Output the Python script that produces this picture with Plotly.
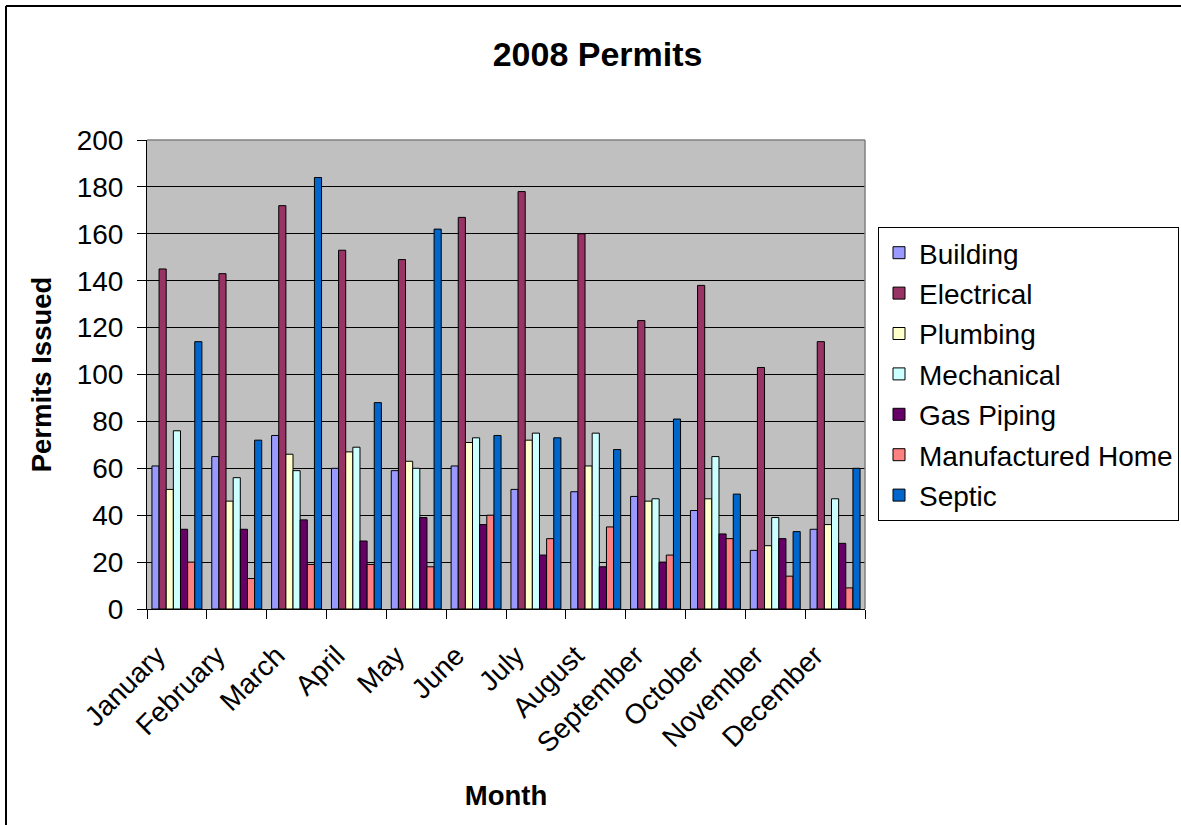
import plotly.graph_objects as go

# Permits issued per month in 2008, by permit type
months = ["January", "February", "March", "April", "May", "June",
          "July", "August", "September", "October", "November", "December"]

building = [61, 65, 74, 60, 59, 61, 51, 50, 48, 42, 25, 34]
electrical = [145, 143, 172, 153, 149, 167, 178, 160, 123, 138, 103, 114]
plumbing = [51, 46, 66, 67, 63, 71, 72, 61, 46, 47, 27, 36]
mechanical = [76, 56, 59, 69, 60, 73, 75, 75, 47, 65, 39, 47]
gas_piping = [34, 34, 38, 29, 39, 36, 23, 18, 20, 32, 30, 28]
manufactured_home = [20, 13, 19, 19, 18, 40, 30, 35, 23, 30, 14, 9]
septic = [114, 72, 184, 88, 162, 74, 73, 68, 81, 49, 33, 60]

series = [
    ("Building", building, "#9999FF"),
    ("Electrical", electrical, "#993366"),
    ("Plumbing", plumbing, "#FFFFCC"),
    ("Mechanical", mechanical, "#CCFFFF"),
    ("Gas Piping", gas_piping, "#660066"),
    ("Manufactured Home", manufactured_home, "#FF8080"),
    ("Septic", septic, "#0066CC"),
]

FONT = "Arial, Liberation Sans, sans-serif"

fig = go.Figure()
for name, values, color in series:
    fig.add_trace(go.Bar(
        name=name, x=months, y=values,
        marker=dict(color=color, line=dict(color="black", width=1)),
        legendgroup=name,
    ))

# plot-area geometry in pixels
W, H = 1181, 825
L, R, T, B = 147, 316, 140, 216
pw, ph = W - L - R, H - T - B

def px_x(p):
    return (p - L) / pw

def px_y(p):
    return (H - B - p) / ph

fig.update_layout(
    width=W, height=H,
    margin=dict(l=L, r=R, t=T, b=B, autoexpand=False),
    paper_bgcolor="white",
    plot_bgcolor="#C0C0C0",
    font=dict(family=FONT, size=28, color="black"),
    barmode="group",
    bargap=0.165,
    bargroupgap=0,
    title=dict(text="<b>2008 Permits</b>", font=dict(size=34),
               x=0.506, xref="container", xanchor="center",
               y=1 - 54 / H, yref="container", yanchor="middle"),
    legend=dict(x=px_x(878), y=px_y(227), xanchor="left", yanchor="top",
                bordercolor="black", borderwidth=1, bgcolor="white",
                font=dict(size=28), traceorder="grouped", tracegroupgap=1),
    xaxis=dict(
        title=dict(text="<b>Month</b>", font=dict(size=27.5), standoff=28),
        tickangle=-45, ticks="outside", ticklen=9, tickcolor="black",
        tickson="boundaries", showline=True, linecolor="black", linewidth=1,
        showgrid=False, tickfont=dict(size=28),
        ticklabelstandoff=18, ticklabelshift=-20,
    ),
    yaxis=dict(
        title=dict(text="<b>Permits Issued</b>", font=dict(size=27.5), standoff=17),
        range=[0, 200], dtick=20, ticks="outside", ticklen=9, tickcolor="black",
        showline=True, linecolor="black", linewidth=1,
        showgrid=True, gridcolor="black", gridwidth=1, zeroline=False,
        tickfont=dict(size=28), ticklabelstandoff=8,
    ),
    shapes=[
        # grey frame on top and right of the plot area
        dict(type="line", xref="paper", yref="paper", x0=0, x1=1, y0=1, y1=1,
             line=dict(color="#808080", width=1.5), layer="above"),
        dict(type="line", xref="paper", yref="paper", x0=1, x1=1, y0=0, y1=1,
             line=dict(color="#808080", width=1.5), layer="above"),
        # outer chart border (top and left edges)
        dict(type="line", xref="paper", yref="paper",
             x0=px_x(6), x1=px_x(1181), y0=px_y(6), y1=px_y(6),
             line=dict(color="black", width=2), layer="above"),
        dict(type="line", xref="paper", yref="paper",
             x0=px_x(6), x1=px_x(6), y0=px_y(6), y1=px_y(825),
             line=dict(color="black", width=2), layer="above"),
    ],
)

fig.write_html("out.html")
